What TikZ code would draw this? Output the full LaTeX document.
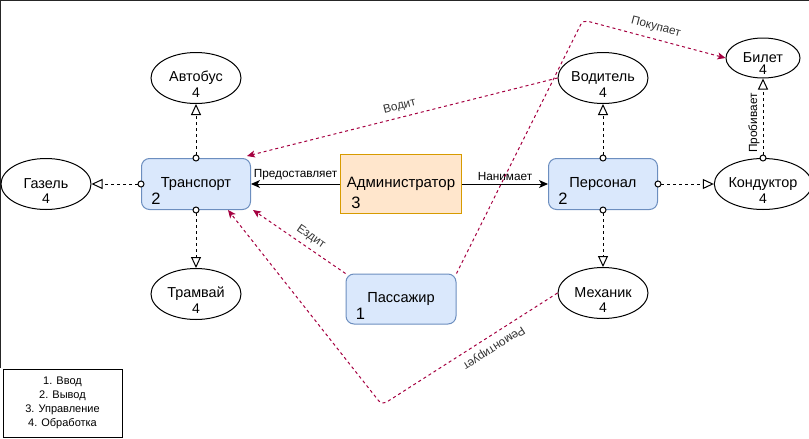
\documentclass[tikz,border=0pt]{standalone}
\usepackage{fontspec}
\setmainfont{Liberation Sans}
\usetikzlibrary{arrows.meta,positioning,shapes.geometric}

\definecolor{blockfill}{HTML}{DAE8FC}
\definecolor{blockline}{HTML}{6C8EBF}
\definecolor{adminfill}{HTML}{FFE6CC}
\definecolor{adminline}{HTML}{D79B00}
\definecolor{crimson}{HTML}{A50040}
\definecolor{labelgray}{HTML}{333333}

\tikzset{
  block/.style={draw=blockline, fill=blockfill, rounded corners=8pt,
    minimum width=109pt, minimum height=51pt, inner sep=0pt,
    font=\fontsize{14.6}{16}\selectfont},
  adminbox/.style={draw=adminline, fill=adminfill, minimum width=121pt,
    minimum height=59pt, inner sep=0pt, font=\fontsize{15}{17}\selectfont},
  entity/.style={ellipse, draw, minimum width=90pt, minimum height=51pt,
    inner sep=0pt, font=\fontsize{14.4}{16}\selectfont},
  digit/.style={inner sep=0pt, font=\fontsize{14}{16}\selectfont},
  bignum/.style={inner sep=0pt, font=\fontsize{16.5}{18}\selectfont},
  lbl/.style={inner sep=0pt, text=labelgray, font=\fontsize{11.8}{13}\selectfont},
  assoc/.style={dash pattern=on 3pt off 3pt, shorten <=-3.5pt,
    {Circle[fill=white,length=7pt]}-{Triangle[fill=white,length=11pt,width=10pt]}},
  give/.style={-{Stealth[length=9pt,width=8pt,inset=2.5pt]}},
  rel/.style={draw=crimson, dash pattern=on 3pt off 3pt, rounded corners=5pt,
    -{Stealth[length=8pt,width=7pt,inset=2pt]}},
}

\begin{document}
\begin{tikzpicture}[x=1pt, y=1pt, line width=1pt, on grid]
  \useasboundingbox (0,0) rectangle (809,-439);
  \draw[line width=1.5pt, black!85] (0.5,-368) -- (0.5,-0.5) -- (809,-0.5);

  \node[block]    (trans)  at (196,-184)              {Транспорт};
  \node[entity]   (bus)    [above=106pt of trans]     {Автобус};
  \node[entity]   (gazel)  [left=150pt of trans]      {Газель};
  \node[entity]   (tram)   [below=110pt of trans]     {Трамвай};
  \node[adminbox] (admin)  [right=205pt of trans]     {Администратор};
  \node[block]    (pers)   [right=202pt of admin]     {Персонал};
  \node[entity]   (driver) [above=106pt of pers]      {Водитель};
  \node[entity]   (mech)   [below=109pt of pers]      {Механик};
  \node[entity]   (cond)   [right=160pt of pers]      {Кондуктор};
  \node[entity, minimum width=74pt, minimum height=40pt]
                  (ticket) [above=126pt of cond]      {Билет};
  \node[block, minimum width=110pt, minimum height=50pt]
                  (pass)   [below=115pt of admin]     {Пассажир};

  % role numbers
  \node[bignum] (trans-n) at ([shift={(15pt,11pt)}]trans.south west) {2};
  \node[bignum] (pers-n)  at ([shift={(15pt,11pt)}]pers.south west)  {2};
  \node[bignum] (admin-n) at ([shift={(16pt,11pt)}]admin.south west) {3};
  \node[bignum] (pass-n)  at ([shift={(15pt,11pt)}]pass.south west)  {1};
  \foreach \e in {bus,gazel,tram,driver,mech,cond}
    \node[digit] (\e-n) at ([yshift=-15pt]\e.center) {4};
  \node[digit] (ticket-n) at ([yshift=-12pt]ticket.center) {4};

  \node[draw, align=center, minimum width=119pt, minimum height=68pt,
    font=\fontsize{11}{14}\selectfont] (legend) at (62.5,-403)
    {1. Ввод\\2. Вывод\\3. Управление\\4. Обработка};

  \path[assoc]
    (trans.north) edge (bus.south)
    (trans.west)  edge (gazel.east)
    (trans.south) edge (tram.north)
    (pers.north)  edge (driver.south)
    (pers.south)  edge (mech.north)
    (pers.east)   edge (cond.west)
    (cond.north)  edge node[lbl, text=black, sloped, above=3pt, pos=0.44] {Пробивает} (ticket.south);

  \path[give]
    (admin.west) edge node[lbl, text=black, above=4pt] {Предоставляет} (trans.east)
    (admin.east) edge node[lbl, text=black, above=3pt] {Нанимает} (pers.west);

  \coordinate (buy-bend) at (583,-20);
  \coordinate (fix-bend) at (382,-405);
  \draw[rel] (driver.west) -- node[lbl, sloped, above=5pt] {Водит}
    ([shift={(-4pt,2pt)}]trans.north east);
  \draw[rel] (pass.north west) -- node[lbl, sloped, above=5pt, pos=0.44] {Ездит}
    ([xshift=2pt]trans.south east);
  \draw[rel] (pass.north east) -- (buy-bend)
    -- node[lbl, sloped, above=6pt, pos=0.49] {Покупает} (ticket.west);
  \draw[rel] (mech.west)
    -- node[lbl, allow upside down, sloped, above=6pt, pos=0.4] {Ремонтирует} (fix-bend)
    -- ([xshift=32pt]trans.south);
\end{tikzpicture}
\end{document}
